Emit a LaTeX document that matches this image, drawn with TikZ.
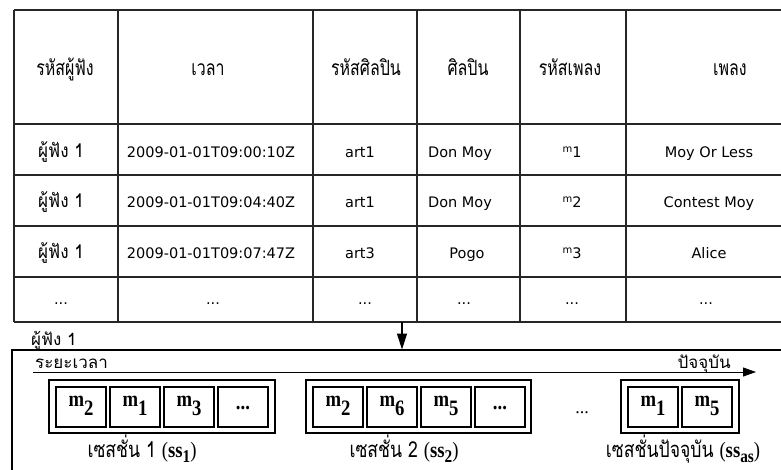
\documentclass[tikz,border=0pt]{standalone}
\usepackage{fontspec}
\setmainfont{Liberation Serif}
\newfontfamily\thai[Script=Thai]{Loma}
\newfontfamily\thaih[Script=Thai,FakeStretch=0.76]{Loma}
\newfontfamily\thair[Script=Thai,FakeStretch=0.9]{Loma}
\newfontfamily\thain[Script=Thai,FakeStretch=0.8]{Loma}
\newfontfamily\mser[FakeStretch=0.85]{Liberation Serif}
\newfontfamily\lat{DejaVu Sans}
\usetikzlibrary{arrows.meta}
\newcommand{\mmsub}[1]{\textbf{m}\raisebox{-9pt}{\textbf{#1}}}
\newcommand{\tsub}[1]{{\lat\raisebox{5pt}{\fontsize{10}{10}\selectfont m}\fontsize{14.5}{14.5}\selectfont #1}}
\newcommand{\sslab}[2]{{\thain\fontsize{22}{22}\selectfont #1 }{\mser(\textbf{ss}\raisebox{-5pt}{\fontsize{18}{18}\selectfont\textbf{#2}})}}
\begin{document}
\begin{tikzpicture}[x=1pt,y=-1pt,
  grid/.style={line width=1.8pt,draw=black!85},
  hd/.style={anchor=base,inner sep=0pt,font=\thaih\fontsize{21}{21}\selectfont},
  th/.style={anchor=base,inner sep=0pt,font=\thair\fontsize{19}{19}\selectfont},
  cl/.style={anchor=base,inner sep=0pt,font=\lat\fontsize{14.5}{14.5}\selectfont},
  sbox/.style={draw,line width=1.1pt,inner sep=0pt},
  mbox/.style={draw,line width=1.1pt,inner sep=0pt,minimum width=50pt,text height=19pt,text depth=21pt,font=\mser\fontsize{22}{22}\selectfont},
  slab/.style={anchor=base,inner sep=0pt,font=\mser\fontsize{22}{22}\selectfont},
  tlab/.style={anchor=base,inner sep=0pt,font=\thai\fontsize{17}{17}\selectfont}]
\useasboundingbox (0,0) rectangle (781,469);
\clip (0,0) rectangle (781,469);
% table grid
\foreach \y in {10,124,175,226,277,322} \draw[grid] (14,\y) -- (800,\y);
\foreach \x in {14,118,313,417,520,626} \draw[grid] (\x,10) -- (\x,322);
% header
\node[hd] (h1) at (65,75) {รหัสผู้ฟัง};
\node[hd] (h2) at (208,75) {เวลา};
\node[hd] (h3) at (366,75) {รหัสศิลปิน};
\node[hd] (h4) at (468,75) {ศิลปิน};
\node[hd] (h5) at (570,75) {รหัสเพลง};
\node[hd] (h6) at (730,75) {เพลง};
% rows
\foreach \r/\yy/\t/\a/\p/\m/\s in {1/157/00:10/art1/Don Moy/1/Moy Or Less,2/207/04:40/art1/Don Moy/2/Contest Moy}{
  \node[th] (u\r) at (61,\yy) {ผู้ฟัง 1};
  \node[cl] (t\r) at (211,\yy) {2009-01-01T09:\t Z};
  \node[cl] (a\r) at (360,\yy) {\a};
  \node[cl] (p\r) at (460,\yy) {\p};
  \node[cl] (m\r) at (572,\yy) {\tsub{\m}};
  \node[cl] (s\r) at (709,\yy) {\s};
}
\node[th] (u3) at (61,258) {ผู้ฟัง 1};
\node[cl] (t3) at (211,258) {2009-01-01T09:07:47Z};
\node[cl] (a3) at (360,258) {art3};
\node[cl] (p3) at (467,258) {Pogo};
\node[cl] (m3) at (572,258) {\tsub{3}};
\node[cl] (s3) at (709,258) {Alice};
\foreach \x/\n in {61/1,213/2,365/3,464/4,572/5,706/6}
  \node[cl] (d\n) at (\x,304) {...};
% arrow from table to sessions
\coordinate (tb) at (402,322);
\coordinate (bt) at (402,349.5);
\draw[line width=1.4pt,-{Triangle[length=16pt,width=10pt]}] (tb) -- (bt);
% lower frame
\draw[line width=1.3pt] (800,350) -- (12,350) -- (12,480);
\node[th,anchor=base west,font=\thai\fontsize{17}{17}\selectfont] (lis) at (31,345) {ผู้ฟัง 1};
\node[tlab,anchor=base west] (ts) at (35,368) {ระยะเวลา};
\node[tlab,anchor=base east] (te) at (731,368) {ปัจจุบัน};
\coordinate (tl) at (33,372);
\coordinate (tr) at (756,372);
\draw[line width=0.9pt,-{Triangle[length=13pt,width=9pt]}] (tl) -- (tr);
% session 1
\node[sbox,minimum width=226pt,minimum height=53pt] (o1) at (162,406.5) {};
\node[mbox] (b11) at (81,407) {\mmsub{2}};
\node[mbox] (b12) at (135,407) {\mmsub{1}};
\node[mbox] (b13) at (189,407) {\mmsub{3}};
\node[mbox] (b14) at (243,407) {\raisebox{-3pt}{\textbf{...}}};
% session 2
\node[sbox,minimum width=225pt,minimum height=53pt] (o2) at (418.5,406.5) {};
\node[mbox] (b21) at (338,407) {\mmsub{2}};
\node[mbox] (b22) at (392,407) {\mmsub{6}};
\node[mbox] (b23) at (446,407) {\mmsub{5}};
\node[mbox] (b24) at (500,407) {\raisebox{-3pt}{\textbf{...}}};
% dots
\node[anchor=base,inner sep=0pt,font=\fontsize{18}{18}\selectfont] (gap) at (582,413) {...};
% current session
\node[sbox,minimum width=118pt,minimum height=53pt] (o3) at (680,406.5) {};
\node[mbox] (b31) at (653,407) {\mmsub{1}};
\node[mbox] (b32) at (707,407) {\mmsub{5}};
% labels
\node[slab] (l1) at (142,457) {\sslab{เซสชั่น 1}{1}};
\node[slab] (l2) at (404,457) {\sslab{เซสชั่น 2}{2}};
\node[slab] (l3) at (683,457) {\sslab{เซสชั่นปัจจุบัน}{as}};
\end{tikzpicture}
\end{document}
